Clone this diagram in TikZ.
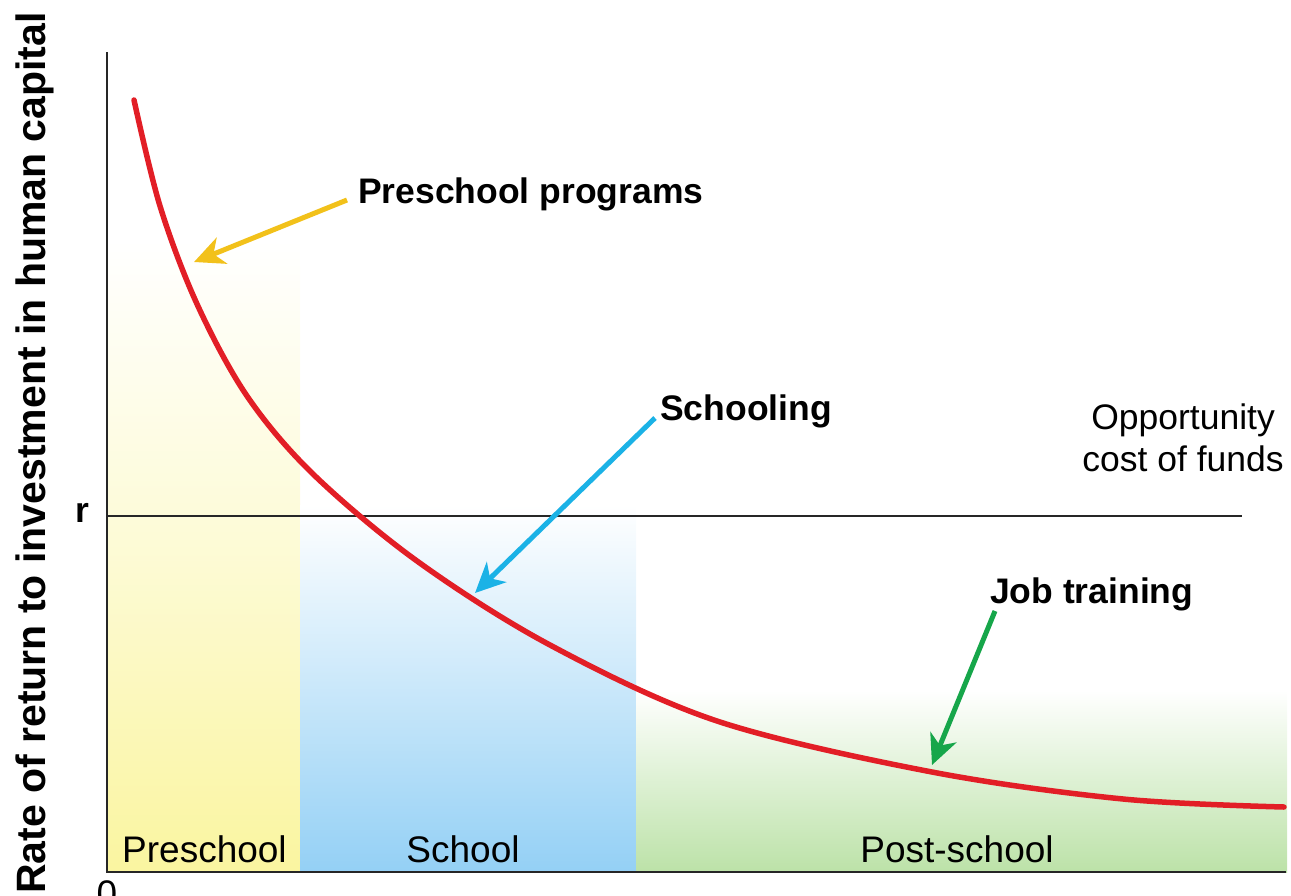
\documentclass[tikz,border=0pt]{standalone}
\usepackage{fontspec}
\setmainfont{Liberation Sans}
\usetikzlibrary{arrows.meta}
\definecolor{curvered}{RGB}{226,30,38}
\definecolor{preyellow}{RGB}{250,245,160}
\definecolor{schblue}{RGB}{148,208,245}
\definecolor{postgreen}{RGB}{188,226,168}
\definecolor{arryellow}{RGB}{242,193,26}
\definecolor{arrblue}{RGB}{27,178,230}
\definecolor{arrgreen}{RGB}{22,166,74}
\tikzset{
  boldlbl/.style={inner sep=0pt, font=\fontsize{35.5}{42}\selectfont\bfseries},
  plainlbl/.style={inner sep=0pt, font=\fontsize{35.5}{42}\selectfont},
  zonelbl/.style={inner sep=0pt, font=\fontsize{37}{44}\selectfont},
  axisline/.style={line width=2pt, black!85},
  pointer/.style={line width=5pt, -{Stealth[length=30pt,width=28pt,inset=9pt]}},
  returncurve/.style={line width=5.5pt, curvered, line cap=round},
}
\begin{document}
\begin{tikzpicture}[x=1pt,y=-1pt]
\useasboundingbox (0,0) rectangle (1291,895);
% shaded zones
\shade[top color=white, bottom color=preyellow, middle color=preyellow!45] (107,240) rectangle (300,872);
\shade[top color=white, bottom color=schblue] (300,505) rectangle (636,872);
\shade[top color=white, bottom color=postgreen] (636,690) rectangle (1287,872);
% axes
\coordinate (ytop) at (107,52);
\coordinate (origin) at (107,872);
\coordinate (xend) at (1286,872);
\coordinate (rstart) at (107,516);
\coordinate (rend) at (1242,516);
\draw[axisline] (ytop) -- (origin) -- (xend);
\draw[axisline] (rstart) -- (rend);
% curve
\draw[returncurve] plot[smooth, tension=0.55] coordinates {(134,100) (160,206) (197,304) (247,396) (313,474) (417,561) (550,645) (717,721) (932,772) (1123,799) (1284,807)};
% labels
\node[boldlbl, anchor=base west] (pp) at (358,203) {Preschool programs};
\node[boldlbl, anchor=base west] (sch) at (660,420) {Schooling};
\node[boldlbl, anchor=base west] (jt) at (990,603) {Job training};
\node[plainlbl, anchor=north, align=center] (occ) at (1183,404) {Opportunity\\cost of funds};
\node[boldlbl, anchor=base west] (rlab) at (75,522) {r};
\node[zonelbl, anchor=base west] (zpre) at (122,862) {Preschool};
\node[zonelbl, anchor=base] (zsch) at (463,862) {School};
\node[zonelbl, anchor=base] (zpost) at (957,862) {Post-school};
\node[zonelbl, anchor=base] (zero) at (107,906) {0};
\node[inner sep=0pt, font=\fontsize{41}{48}\selectfont\bfseries, rotate=90, anchor=base] (ylab) at (45,453) {Rate of return to investment in human capital};
% pointers
\coordinate (ppfrom) at (347,200);
\coordinate (ppto) at (194,262);
\coordinate (schfrom) at (655,418);
\coordinate (schto) at (475,593);
\coordinate (jtfrom) at (995,611);
\coordinate (jtto) at (932,765);
\draw[pointer, arryellow] (ppfrom) -- (ppto);
\draw[pointer, arrblue] (schfrom) -- (schto);
\draw[pointer, arrgreen] (jtfrom) -- (jtto);
\end{tikzpicture}
\end{document}
